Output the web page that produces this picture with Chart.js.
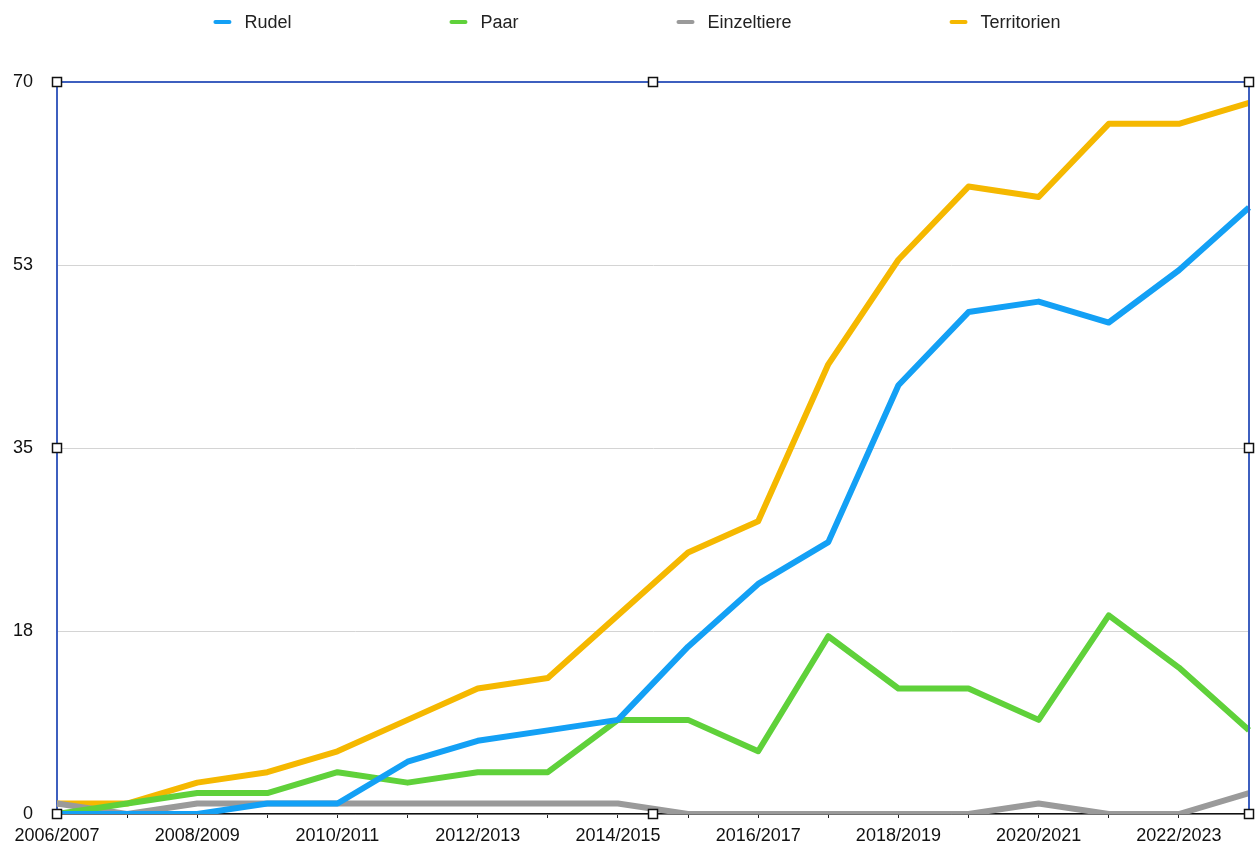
<!DOCTYPE html>
<html>
<head>
<meta charset="utf-8">
<script src="https://cdn.jsdelivr.net/npm/chart.js@4/dist/chart.umd.min.js"></script>
<style>
  html, body { margin: 0; padding: 0; background: #fff; }
  #wrap { width: 1256px; height: 852px; position: relative; }
</style>
</head>
<body>
<div id="wrap"><canvas id="myChart" width="1256" height="852"></canvas></div>
<script>
const seasons = [
  "2006/2007", "2007/2008", "2008/2009", "2009/2010", "2010/2011", "2011/2012",
  "2012/2013", "2013/2014", "2014/2015", "2015/2016", "2016/2017", "2017/2018",
  "2018/2019", "2019/2020", "2020/2021", "2021/2022", "2022/2023", "2023/2024"
];
const rudel       = [0, 0, 0, 1, 1, 5, 7, 8, 9, 16, 22, 26, 41, 48, 49, 47, 52, 58];
const paar        = [0, 1, 2, 2, 4, 3, 4, 4, 9, 9, 6, 17, 12, 12, 9, 19, 14, 8];
const einzeltiere = [1, 0, 1, 1, 1, 1, 1, 1, 1, 0, 0, 0, 0, 0, 1, 0, 0, 2];
const territorien = [1, 1, 3, 4, 6, 9, 12, 13, 19, 25, 28, 43, 53, 60, 59, 66, 66, 68];
const yTicks = [0, 17.5, 35, 52.5, 70];

const FONT = "'Liberation Sans', Arial, Helvetica, sans-serif";
const frameColor = "#3d5fbf";

// legend drawn by hand: wide gaps between the items like in the original
const legendPlugin = {
  id: "wideLegend",
  afterDraw(chart) {
    const ctx = chart.ctx;
    const gap = 158, mark = 18, markGap = 13;
    ctx.save();
    ctx.font = "18px " + FONT;
    ctx.textBaseline = "middle";
    const items = chart.data.datasets.map((d) => ({
      text: d.label,
      color: d.borderColor,
      w: mark + markGap + ctx.measureText(d.label).width,
    }));
    const total = items.reduce((s, it) => s + it.w, 0) + gap * (items.length - 1);
    let x = 637 - total / 2;
    const y = 22;
    items.forEach((it) => {
      ctx.strokeStyle = it.color;
      ctx.lineWidth = 4;
      ctx.lineCap = "round";
      ctx.beginPath();
      ctx.moveTo(x + 2, y);
      ctx.lineTo(x + mark - 2, y);
      ctx.stroke();
      ctx.fillStyle = "#222";
      ctx.fillText(it.text, x + mark + markGap, y + 1);
      x += it.w + gap;
    });
    ctx.restore();
  },
};

// frame on top/right + the little selection handles
const framePlugin = {
  id: "frame",
  afterDraw(chart) {
    const { left, right, top, bottom } = chart.chartArea;
    const ctx = chart.ctx;
    ctx.save();
    ctx.strokeStyle = frameColor;
    ctx.lineWidth = 2;
    ctx.beginPath();
    ctx.moveTo(left, top);
    ctx.lineTo(right, top);
    ctx.lineTo(right, bottom);
    ctx.stroke();
    const midX = (left + right) / 2, midY = (top + bottom) / 2;
    const pts = [
      [left, top], [midX, top], [right, top],
      [left, midY], [right, midY],
      [left, bottom], [midX, bottom], [right, bottom],
    ];
    ctx.lineWidth = 1.5;
    pts.forEach(([px, py]) => {
      ctx.fillStyle = "#fff";
      ctx.fillRect(px - 4.5, py - 4.5, 9, 9);
      ctx.strokeStyle = "#111";
      ctx.strokeRect(px - 4.5, py - 4.5, 9, 9);
    });
    ctx.restore();
  },
};

const mk = (label, data, color, order) => ({
  label,
  data,
  borderColor: color,
  backgroundColor: color,
  borderWidth: 6,
  pointRadius: 0,
  tension: 0,
  borderJoinStyle: "round",
  fill: false,
  order,
});

const ctx = document.getElementById("myChart").getContext("2d");
new Chart(ctx, {
  type: "line",
  data: {
    labels: seasons,
    datasets: [
      mk("Rudel", rudel, "#13a0f5", 0),
      mk("Paar", paar, "#5fd13a", 1),
      mk("Einzeltiere", einzeltiere, "#9a9a9a", 2),
      mk("Territorien", territorien, "#f5b800", 3),
    ],
  },
  options: {
    responsive: false,
    animation: false,
    layout: { padding: { top: 82, right: 6, left: 0, bottom: 0 } },
    plugins: {
      legend: { display: false },
      tooltip: { enabled: false },
    },
    scales: {
      x: {
        offset: false,
        grid: {
          drawOnChartArea: false,
          drawTicks: true,
          tickLength: 4,
          color: "#222",
        },
        border: { color: "#111", width: 1.5 },
        ticks: {
          autoSkip: false,
          maxRotation: 0,
          minRotation: 0,
          padding: 7,
          color: "#111",
          font: { family: FONT, size: 18 },
          callback: (v, i) => (i % 2 === 0 ? seasons[i] : ""),
        },
        afterFit: (s) => { s.height = 38; },
      },
      y: {
        min: 0,
        max: 70,
        afterBuildTicks: (s) => { s.ticks = yTicks.map((v) => ({ value: v })); },
        grid: { color: "#d4d4d4", lineWidth: 1, drawTicks: false },
        border: { color: frameColor, width: 2 },
        ticks: {
          padding: 24,
          color: "#111",
          font: { family: FONT, size: 18 },
          callback: (v) => Math.round(v),
        },
        afterFit: (s) => { s.width = 57; },
      },
    },
  },
  plugins: [legendPlugin, framePlugin],
});
</script>
</body>
</html>
